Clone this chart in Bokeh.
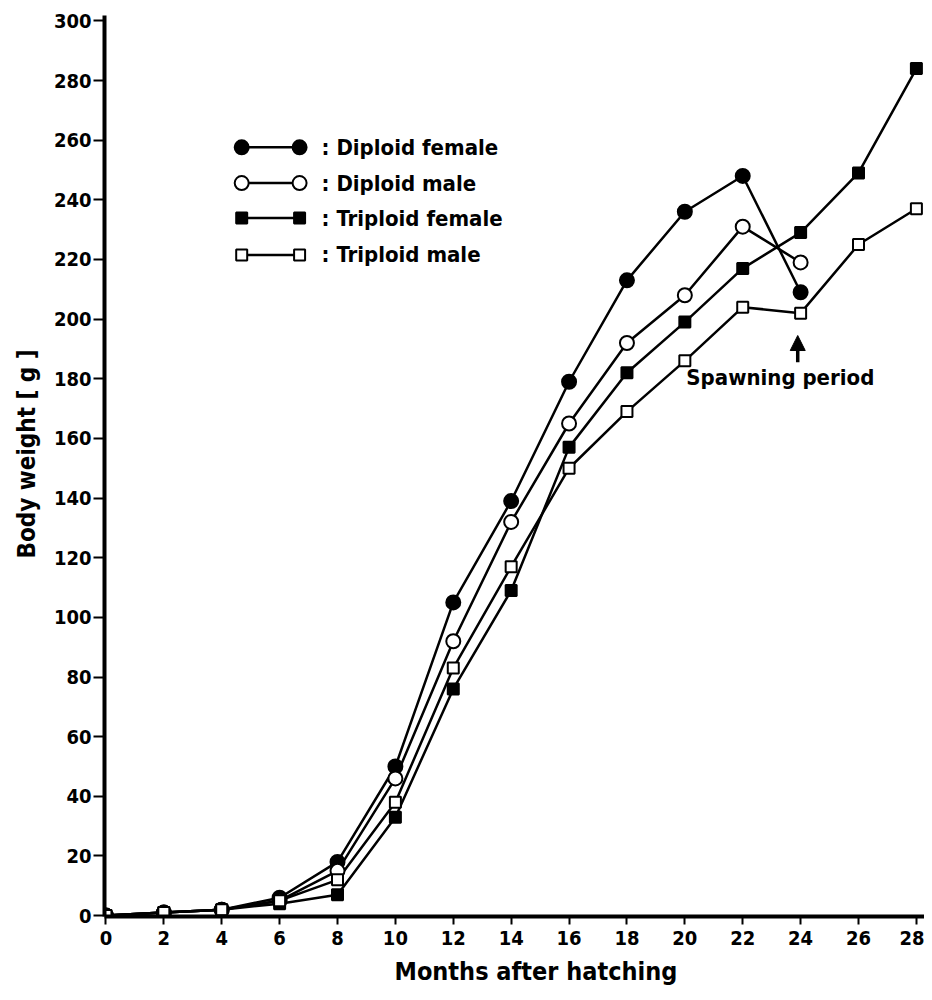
from bokeh.plotting import figure
from bokeh.models import Range1d, FixedTicker, Arrow, NormalHead, Title
from bokeh.core.properties import value
from bokeh.embed import file_html
from bokeh.resources import INLINE

months_full = [0, 2, 4, 6, 8, 10, 12, 14, 16, 18, 20, 22, 24, 26, 28]
months_dip = [0, 2, 4, 6, 8, 10, 12, 14, 16, 18, 20, 22, 24]

diploid_female = [0, 1, 2, 6, 18, 50, 105, 139, 179, 213, 236, 248, 209]
diploid_male = [0, 1, 2, 5, 15, 46, 92, 132, 165, 192, 208, 231, 219]
triploid_female = [0, 1, 2, 4, 7, 33, 76, 109, 157, 182, 199, 217, 229, 249, 284]
triploid_male = [0, 1, 2, 5, 12, 38, 83, 117, 150, 169, 186, 204, 202, 225, 237]

series_labels = [": Diploid female", ": Diploid male", ": Triploid female", ": Triploid male"]
x_ticks = list(range(0, 29, 2))
y_ticks = list(range(0, 301, 20))

FONT = "DejaVu Sans Condensed"

p = figure(width=924, height=998, output_backend="svg", toolbar_location=None,
           x_range=Range1d(-0.05, 28.28), y_range=Range1d(-0.3, 301.8),
           min_border_left=104, min_border_top=15, min_border_bottom=82, min_border_right=0)
p.outline_line_color = None
p.grid.visible = False
p.background_fill_color = "white"

for ax in (p.xaxis[0], p.yaxis[0]):
    ax.axis_line_width = 4
    ax.axis_line_color = "black"
    ax.major_tick_in = 0
    ax.major_tick_line_width = 2
    ax.minor_tick_line_color = None
    ax.major_label_text_font = FONT
    ax.major_label_text_font_style = "bold"
    ax.major_label_text_font_size = "20px"
    ax.major_label_text_color = "black"

p.xaxis.major_tick_out = 8
p.yaxis.major_tick_out = 11
p.xaxis.ticker = FixedTicker(ticks=x_ticks)
p.yaxis.ticker = FixedTicker(ticks=y_ticks)
p.xaxis.major_label_standoff = 6
p.yaxis.major_label_standoff = 2

# axis titles (offset from frame edge as in the original)
p.add_layout(Title(text="Months after hatching", align="left", offset=290,
                   standoff=15, text_font=FONT, text_font_style="bold",
                   text_font_size="25px", text_color="black"), "below")
p.add_layout(Title(text="Body weight [ g ]", align="left", offset=358,
                   standoff=20, text_font=FONT, text_font_style="bold",
                   text_font_size="24px", text_color="black"), "left")

LW = 2.5
series = [
    (months_dip, diploid_female, "circle", "black", 14),
    (months_dip, diploid_male, "circle", "white", 14),
    (months_full, triploid_female, "square", "black", 11),
    (months_full, triploid_male, "square", "white", 11),
]
for xs, ys, marker, fill, size in series:
    p.line(xs, ys, line_color="black", line_width=LW)
for xs, ys, marker, fill, size in series:
    p.scatter(xs, ys, marker=marker, size=size, fill_color=fill,
              line_color="black", line_width=2)

# legend (drawn in data space)
leg_x0, leg_x1, leg_text_x = 4.69, 6.69, 7.45
leg_ys = [257.6, 245.6, 233.9, 221.5]
for (xs, ys, marker, fill, size), ly, lab in zip(series, leg_ys, series_labels):
    p.line([leg_x0, leg_x1], [ly, ly], line_color="black", line_width=LW)
    p.scatter([leg_x0, leg_x1], [ly, ly], marker=marker, size=size,
              fill_color=fill, line_color="black", line_width=2)
    p.text([leg_text_x], [ly], text=[lab], text_font=value(FONT),
           text_font_style="bold", text_font_size="22px",
           text_baseline="middle", text_align="left", text_color="black")

# spawning period annotation
p.add_layout(Arrow(end=NormalHead(size=15, fill_color="black", line_color="black"),
                   x_start=23.9, y_start=185.5, x_end=23.9, y_end=194.5,
                   line_width=3.5, line_color="black"))
p.text([23.3], [180.3], text=["Spawning period"], text_font=value(FONT),
       text_font_style="bold", text_font_size="22px",
       text_baseline="middle", text_align="center", text_color="black")

open("out.html", "w").write(file_html(p, INLINE))
